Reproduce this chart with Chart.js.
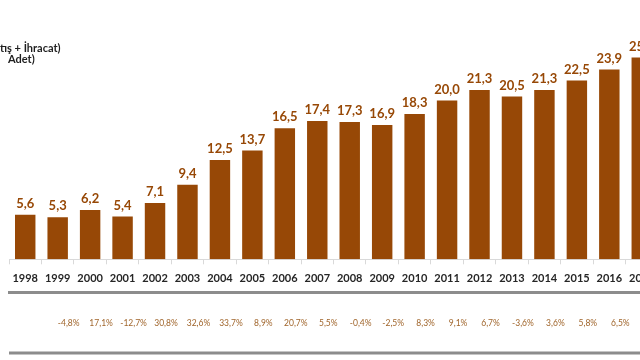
<!DOCTYPE html>
<html>
<head>
<meta charset="utf-8">
<script src="https://cdn.jsdelivr.net/npm/chart.js@4.4.0/dist/chart.umd.min.js"></script>
<style>
  html, body { margin: 0; padding: 0; background: #fff; overflow: hidden; }
  #wrap { position: relative; width: 640px; height: 360px; overflow: hidden; }
  #myChart { position: absolute; left: 0; top: 0; }
</style>
</head>
<body>
<div id="wrap">
  <canvas id="myChart" width="667" height="360"></canvas>
</div>
<script>
// yillar, degerler (satis + ihracat), yillik degisim
var years = ['1998', '1999', '2000', '2001', '2002', '2003', '2004', '2005', '2006', '2007',
  '2008', '2009', '2010', '2011', '2012', '2013', '2014', '2015', '2016', '2017'];
var values = [5.6, 5.3, 6.2, 5.4, 7.1, 9.4, 12.5, 13.7, 16.5, 17.4,
  17.3, 16.9, 18.3, 20.0, 21.3, 20.5, 21.3, 22.5, 23.9, 25.4];
var changes = ['', '-4,8%', '17,1%', '-12,7%', '30,8%', '32,6%', '33,7%', '8,9%', '20,7%', '5,5%',
  '-0,4%', '-2,5%', '8,3%', '9,1%', '6,7%', '-3,6%', '3,6%', '5,8%', '6,5%', ''];
var titleLines = ['tış + İhracat)', 'Adet)'];

var barColor = '#974806';

Chart.defaults.font.family = 'Lato';

// deger etiketleri
var barLabels = {
  id: 'barLabels',
  afterDatasetsDraw(chart) {
    var ctx = chart.ctx;
    var meta = chart.getDatasetMeta(0);
    ctx.save();
    ctx.font = 'bold 13px Lato';
    ctx.fillStyle = barColor;
    ctx.textAlign = 'center';
    ctx.textBaseline = 'middle';
    meta.data.forEach(function (bar, i) {
      ctx.fillText(values[i].toFixed(1).replace('.', ','), bar.x, bar.y - 11);
    });
    ctx.restore();
  }
};

// alt cizgi + sol ust baslik
var extras = {
  id: 'extras',
  afterDraw(chart) {
    var ctx = chart.ctx;
    var x2 = chart.scales.x2;
    ctx.save();
    ctx.strokeStyle = '#8c8c8c';
    ctx.lineWidth = 3;
    ctx.beginPath();
    ctx.moveTo(x2.left, x2.bottom);
    ctx.lineTo(x2.right, x2.bottom);
    ctx.stroke();

    ctx.font = 'bold 11px Lato';
    ctx.fillStyle = '#1f1f1f';
    ctx.textAlign = 'left';
    ctx.textBaseline = 'middle';
    ctx.fillText(titleLines[0], 0, 48);
    ctx.fillText(titleLines[1], 8, 59);
    ctx.restore();
  }
};

var config = {
  type: 'bar',
  data: {
    labels: years,
    datasets: [{
      data: values,
      backgroundColor: barColor,
      borderWidth: 0,
      barPercentage: 0.63,
      categoryPercentage: 1
    }]
  },
  options: {
    responsive: false,
    animation: false,
    devicePixelRatio: 1,
    layout: { padding: { left: 2, right: 0, top: 21, bottom: 7 } },
    plugins: {
      legend: { display: false },
      tooltip: { enabled: false }
    },
    scales: {
      y: { display: false, min: 0, max: 30 },
      x: {
        weight: 0,
        grid: { display: true, drawOnChartArea: false, drawTicks: true, tickLength: 5, color: '#d9d9d9', offset: true },
        border: { display: true, color: '#d9d9d9', width: 1 },
        ticks: {
          color: '#262626',
          font: { size: 11, weight: 'bold', lineHeight: 1.5 },
          padding: 6, maxRotation: 0, autoSkip: false
        }
      },
      x2: {
        type: 'category',
        labels: changes,
        position: 'bottom',
        weight: 1,
        offset: true,
        grid: { display: true, drawOnChartArea: false, drawTicks: false, color: 'rgba(0,0,0,0)', offset: true },
        border: { display: true, color: '#8c8c8c', width: 3 },
        ticks: {
          color: '#a0652b',
          font: { size: 8.5, lineHeight: 1.2 },
          padding: 25, labelOffset: 11, maxRotation: 0, autoSkip: false
        }
      }
    }
  },
  plugins: [barLabels, extras]
};

var myChart = new Chart(document.getElementById('myChart'), config);
</script>
</body>
</html>
